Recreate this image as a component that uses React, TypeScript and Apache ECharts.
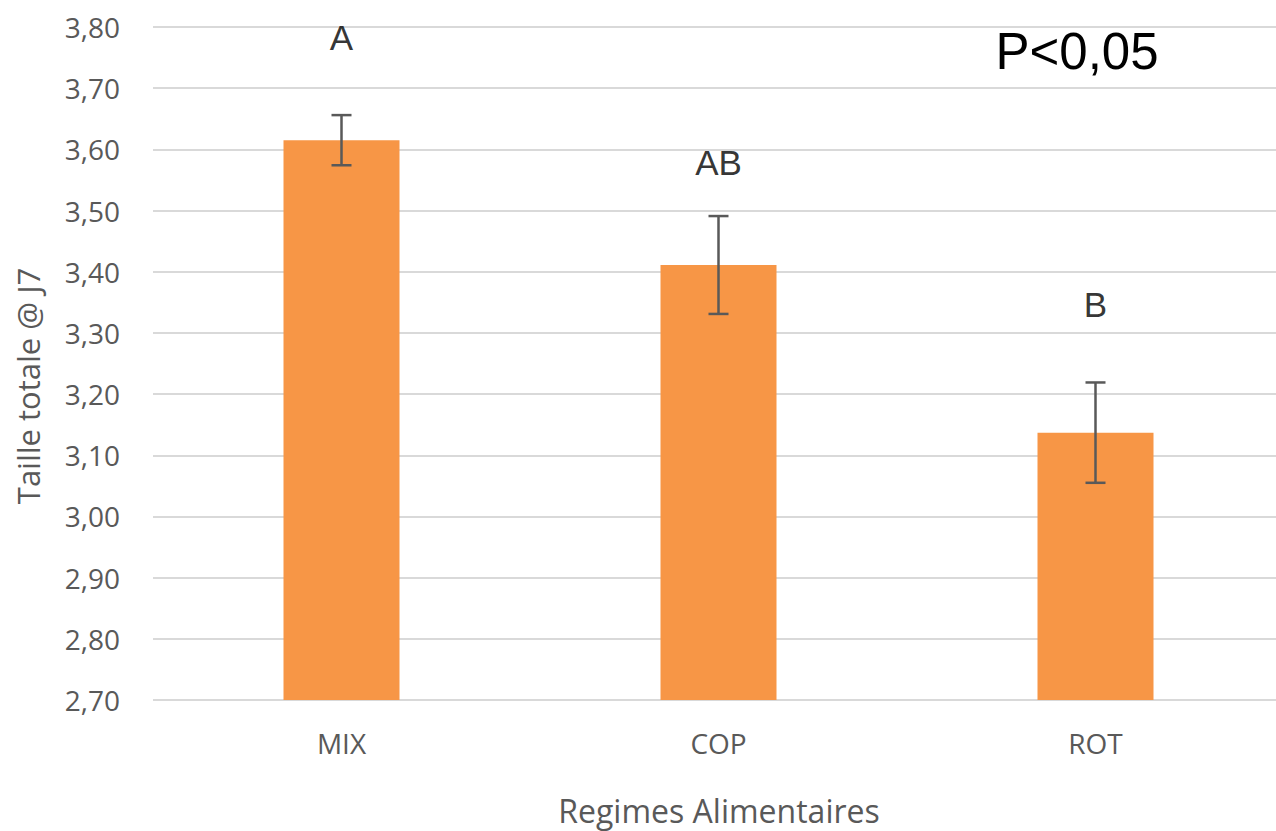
import React, { useEffect, useRef } from "react";
import * as echarts from "echarts";

const categories = ["MIX", "COP", "ROT"];
const means = [3.615, 3.411, 3.137];
const errors = [0.041, 0.08, 0.082];
const letters = ["A", "AB", "B"];
const letterY = [3.783, 3.578, 3.347];
const yMin = 2.7;
const yMax = 3.8;
const yStep = 0.1;
const pText = "P<0,05";
const yTitle = "Taille totale @ J7";
const xTitle = "Regimes Alimentaires";

export default function App() {
  const ref = useRef<HTMLDivElement>(null);
  useEffect(() => {
    document.body.style.margin = "0";
    const chart = echarts.init(ref.current!, null, { renderer: "svg" });
    const tickFont = "'Open Sans', 'Noto Sans', sans-serif";
    chart.setOption({
      animation: false,
      backgroundColor: "#ffffff",
      grid: { left: 153, top: 27, width: 1131, height: 673, outerBoundsMode: "none", containLabel: false },
      xAxis: {
        type: "category",
        data: categories,
        axisLine: { show: false },
        axisTick: { show: false },
        axisLabel: { color: "#595959", fontSize: 28, fontFamily: tickFont, margin: 29 },
      },
      yAxis: {
        type: "value",
        min: yMin,
        max: yMax,
        interval: yStep,
        axisLine: { show: false },
        axisTick: { show: false },
        axisLabel: {
          color: "#595959",
          fontSize: 28,
          fontFamily: tickFont,
          margin: 33,
          formatter: (v: number) => v.toFixed(2).replace(".", ","),
        },
        splitLine: { lineStyle: { color: "#d9d9d9", width: 2 } },
      },
      series: [
        {
          type: "bar",
          data: means,
          barWidth: 116,
          itemStyle: { color: "#F79646" },
        },
        {
          type: "custom",
          data: means.map((m, i) => [i, m - errors[i], m + errors[i]]),
          renderItem: (params: any, api: any) => {
            const lo = api.coord([api.value(0), api.value(1)]);
            const hi = api.coord([api.value(0), api.value(2)]);
            const half = 10;
            const style = { stroke: "#595959", lineWidth: 2.5 };
            return {
              type: "group",
              children: [
                { type: "line", shape: { x1: lo[0], y1: lo[1], x2: hi[0], y2: hi[1] }, style },
                { type: "line", shape: { x1: lo[0] - half, y1: lo[1], x2: lo[0] + half, y2: lo[1] }, style },
                { type: "line", shape: { x1: hi[0] - half, y1: hi[1], x2: hi[0] + half, y2: hi[1] }, style },
              ],
            };
          },
          z: 5,
        },
        {
          type: "scatter",
          data: letterY.map((y, i) => [i, y]),
          symbolSize: 0,
          label: {
            show: true,
            position: "inside",
            formatter: (p: any) => letters[p.dataIndex],
            color: "#000000",
            fontSize: 35,
            fontFamily: "'Liberation Sans', Arial, sans-serif",
          },
          z: 6,
        },
      ],
      graphic: [
        {
          type: "text",
          x: 1077,
          y: 51,
          style: {
            text: pText,
            fill: "#000000",
            fontSize: 51,
            fontFamily: "'Liberation Sans', Arial, sans-serif",
            textAlign: "center",
            textVerticalAlign: "middle",
          },
        },
        {
          type: "text",
          x: 28,
          y: 386,
          rotation: Math.PI / 2,
          style: {
            text: yTitle,
            fill: "#595959",
            fontSize: 31,
            fontFamily: tickFont,
            textAlign: "center",
            textVerticalAlign: "middle",
          },
        },
        {
          type: "text",
          x: 719,
          y: 810,
          style: {
            text: xTitle,
            fill: "#595959",
            fontSize: 32,
            fontFamily: tickFont,
            textAlign: "center",
            textVerticalAlign: "middle",
          },
        },
      ],
    });
    return () => chart.dispose();
  }, []);
  return <div ref={ref} style={{ width: 1276, height: 831 }} />;
}
